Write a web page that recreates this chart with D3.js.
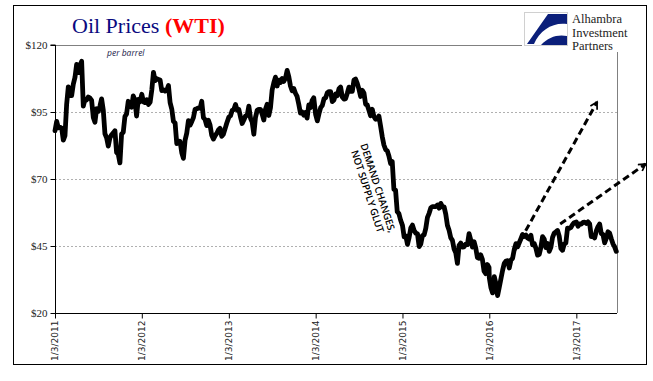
<!DOCTYPE html>
<html>
<head>
<meta charset="utf-8">
<script src="https://cdn.jsdelivr.net/npm/d3@7"></script>
<style>
  body { margin: 0; background: #fff; }
  svg { display: block; }
</style>
</head>
<body>
<div id="chart"></div>
<script>
// weekly WTI closes, one array per year, first value near Jan 3
const years = [2011, 2012, 2013, 2014, 2015, 2016, 2017];
const wti2011 = [88.0, 91.5, 89.1, 89.3, 89.0, 84.5, 86.2, 97.9, 104.4, 101.2, 101.1, 105.4, 107.9, 112.8, 109.7, 112.3, 113.9,
  97.2, 99.7, 99.5, 100.6, 100.2, 99.3, 93.0, 91.2, 96.2, 95.2, 97.2, 99.9, 95.7, 86.9, 85.4, 82.3, 85.4, 86.5, 87.2, 88.0,
  79.9, 79.2, 76.0, 86.8, 87.4, 93.3, 94.3, 99.0, 97.4, 96.8, 101.0, 99.4, 93.5, 99.7, 98.8];
const wti2012 = [101.6, 98.7, 98.5, 99.6, 97.8, 98.7, 103.2, 109.8, 106.7, 107.4, 107.1, 106.9, 103.0, 103.3, 102.8, 103.1,
  104.9, 98.5, 96.1, 91.5, 90.9, 83.2, 84.1, 84.0, 79.8, 77.7, 84.5, 87.1, 91.8, 90.1, 91.4, 92.9, 96.0, 96.2, 96.5, 96.4,
  99.0, 92.9, 92.2, 89.9, 91.9, 90.1, 86.3, 84.9, 86.1, 87.0, 88.3, 88.9, 85.9, 86.7, 88.7, 90.8];
const wti2013 = [93.1, 93.6, 95.6, 95.9, 97.8, 95.7, 95.9, 93.1, 90.7, 92.0, 93.5, 93.7, 97.2, 92.7, 91.3, 86.7, 93.0,
  95.6, 96.0, 96.0, 94.2, 92.0, 96.0, 97.9, 93.7, 96.6, 103.2, 105.9, 108.0, 104.7, 106.9, 106.0, 107.5, 106.4, 107.6,
  110.5, 108.2, 104.7, 102.9, 103.8, 102.0, 100.8, 97.9, 94.6, 95.0, 93.8, 94.8, 92.7, 97.6, 96.6, 99.3, 100.3];
const wti2014 = [94.0, 91.7, 94.4, 96.6, 97.5, 99.9, 100.3, 102.2, 102.6, 102.6, 98.9, 99.5, 101.7, 101.1, 103.7, 104.3,
  100.6, 99.8, 100.0, 102.0, 104.3, 102.7, 102.7, 106.9, 107.3, 105.7, 103.5, 100.8, 103.1, 102.1, 97.9, 97.6, 95.6, 93.6,
  96.0, 93.3, 92.3, 92.4, 93.5, 89.7, 85.8, 82.7, 81.0, 80.5, 78.6, 75.8, 76.5, 66.1, 65.8, 57.8, 57.1, 54.7];
const wti2015 = [52.7, 48.4, 48.7, 45.6, 48.2, 51.7, 52.8, 50.8, 49.8, 49.6, 44.8, 45.7, 48.9, 49.1, 51.6, 55.7, 57.2,
  59.2, 59.7, 59.7, 59.7, 60.3, 59.1, 60.9, 59.6, 59.6, 56.9, 52.7, 50.9, 48.1, 47.1, 43.9, 42.5, 38.5, 45.2, 46.1, 44.6,
  44.7, 45.7, 45.5, 49.6, 47.3, 44.6, 46.6, 44.3, 40.7, 40.4, 41.7, 40.0, 35.6, 34.7, 38.1, 37.0];
const wti2016 = [33.2, 29.4, 27.5, 33.6, 30.9, 26.5, 29.6, 32.8, 35.9, 38.5, 39.4, 39.5, 36.8, 39.7, 40.4, 43.7, 45.9,
  44.7, 46.2, 47.7, 49.3, 48.6, 49.1, 48.0, 47.6, 49.0, 45.4, 45.9, 44.2, 41.6, 41.8, 44.5, 48.5, 47.6, 44.4, 45.9, 43.0,
  44.5, 48.2, 49.8, 50.3, 50.8, 48.7, 44.1, 43.4, 45.7, 46.1, 51.7, 51.5, 51.9, 53.0, 53.7];
const wti2017 = [54.0, 52.4, 53.2, 53.2, 53.8, 53.9, 53.4, 54.0, 53.3, 48.5, 48.8, 48.0, 50.6, 52.2, 53.2, 49.6, 49.3,
  46.2, 47.8, 50.3, 49.8, 47.7, 45.8, 44.7, 43.0];
const weekly = [wti2011, wti2012, wti2013, wti2014, wti2015, wti2016, wti2017];

const yTicks = [20, 45, 70, 95, 120];
const gridValues = [45, 70, 95];
const xTickDates = ["2011-01-03", "2012-01-03", "2013-01-03", "2014-01-03", "2015-01-03", "2016-01-03", "2017-01-03"];
const xDomain = ["2011-01-03", "2017-06-23"];
const noteLines = ["DEMAND CHANGES,", "NOT SUPPLY GLUT"];
const notePos = ["2014-09-16", 66.5];
const arrows = [
  { from: ["2016-04-20", 43.5], to: ["2017-03-31", 98.7] },
  { from: ["2016-10-27", 53.2], to: ["2017-10-21", 75.6] }
];
const logoLines = ["Alhambra", "Investment", "Partners"];

const parse = d3.timeParse("%Y-%m-%d");
const data = [];
years.forEach((yr, k) => {
  weekly[k].forEach((v, i) => {
    data.push({ date: d3.timeDay.offset(new Date(yr, 0, 3), i * 7), value: v });
  });
});

const width = 653, height = 381;
const margin = { left: 55, right: 36, top: 45, bottom: 68 };

const svg = d3.select("#chart").append("svg")
  .attr("width", width)
  .attr("height", height);

// outer frame
svg.append("rect")
  .attr("x", 13.5).attr("y", 5.5)
  .attr("width", 633).attr("height", 359)
  .attr("fill", "none").attr("stroke", "#000").attr("stroke-width", 1);

const x = d3.scaleTime()
  .domain(xDomain.map(parse))
  .range([margin.left, width - margin.right]);

const y = d3.scaleLinear()
  .domain([20, 120])
  .range([height - margin.bottom, margin.top]);

// gridlines
svg.append("g").selectAll("line")
  .data(gridValues)
  .enter().append("line")
  .attr("x1", margin.left).attr("x2", width - margin.right)
  .attr("y1", d => Math.round(y(d)) + 0.5).attr("y2", d => Math.round(y(d)) + 0.5)
  .attr("stroke", "#b0b0b0")
  .attr("stroke-dasharray", "2,2");

// top and right plot border
svg.append("path")
  .attr("d", `M${margin.left},${Math.round(y(120)) + 0.5}H${Math.round(width - margin.right) + 0.5}V${y(20)}`)
  .attr("fill", "none")
  .attr("stroke", "#808080");

// price line
const line = d3.line()
  .x(d => x(d.date))
  .y(d => y(d.value));

svg.append("path")
  .datum(data)
  .attr("d", line)
  .attr("fill", "none")
  .attr("stroke", "#000")
  .attr("stroke-width", 4.8)
  .attr("stroke-linejoin", "round")
  .attr("stroke-linecap", "round");

// axes
const yAxis = d3.axisLeft(y)
  .tickValues(yTicks)
  .tickSize(5)
  .tickPadding(3)
  .tickFormat(d => "$" + d);

const gy = svg.append("g")
  .attr("transform", `translate(${margin.left + 0.5},0)`)
  .call(yAxis);
gy.select(".domain").attr("stroke", "#000").attr("d", `M-5,${y(120)}H0V${y(20)}`);
gy.selectAll("text")
  .style("font-family", "'Liberation Serif', 'Times New Roman', serif")
  .style("font-size", "11px")
  .attr("fill", "#222");

const xAxis = d3.axisBottom(x)
  .tickValues(xTickDates.map(parse))
  .tickSize(5)
  .tickFormat(d3.timeFormat("%-m/%-d/%Y"));

const gx = svg.append("g")
  .attr("transform", `translate(0,${Math.round(y(20)) + 0.5})`)
  .call(xAxis);
gx.select(".domain").attr("d", `M${margin.left},0H${width - margin.right}`);
gx.selectAll("text")
  .attr("transform", "rotate(-90)")
  .attr("x", -7)
  .attr("y", 0)
  .attr("dy", "0.32em")
  .attr("text-anchor", "end")
  .style("font-family", "'DejaVu Sans', Verdana, sans-serif")
  .style("font-size", "9px")
  .attr("fill", "#222");

// dashed arrows
svg.append("defs").append("marker")
  .attr("id", "arrowhead")
  .attr("viewBox", "0 0 10 10")
  .attr("refX", 8).attr("refY", 5)
  .attr("markerWidth", 3.2).attr("markerHeight", 3.2)
  .attr("orient", "auto")
  .append("path")
  .attr("d", "M1,1L8,5L1,9")
  .attr("fill", "none")
  .attr("stroke", "#000")
  .attr("stroke-width", 1.8);

svg.append("g").selectAll("line")
  .data(arrows)
  .enter().append("line")
  .attr("x1", d => x(parse(d.from[0])))
  .attr("y1", d => y(d.from[1]))
  .attr("x2", d => x(parse(d.to[0])))
  .attr("y2", d => y(d.to[1]))
  .attr("stroke", "#000")
  .attr("stroke-width", 3)
  .attr("stroke-dasharray", "7,4")
  .attr("marker-end", "url(#arrowhead)");

// annotation
const note = svg.append("text")
  .attr("transform", `translate(${x(parse(notePos[0]))},${y(notePos[1])}) rotate(72)`)
  .attr("text-anchor", "middle")
  .style("font-family", "'Open Sans', sans-serif")
  .style("font-weight", 600)
  .style("font-size", "10px")
  .style("letter-spacing", "-0.2px")
  .attr("fill", "#000");
note.selectAll("tspan")
  .data(noteLines)
  .enter().append("tspan")
  .attr("x", 0)
  .attr("dy", (d, i) => i === 0 ? "0.2em" : "1.1em")
  .text(d => d);

// title
const title = svg.append("text")
  .attr("x", 72).attr("y", 33)
  .style("font-family", "'Liberation Serif', 'Times New Roman', serif")
  .style("font-size", "22px");
title.append("tspan").attr("fill", "#0a0a80").text("Oil Prices ");
title.append("tspan").attr("fill", "#ff0000").style("font-weight", "bold").text("(WTI)");

svg.append("text")
  .attr("x", 107).attr("y", 56)
  .style("font-family", "'Open Sans', sans-serif")
  .style("font-style", "italic")
  .style("font-size", "8.5px")
  .attr("fill", "#1a1a4a")
  .text("per barrel");

// logo
const logo = svg.append("g");
logo.append("rect")
  .attr("x", 522).attr("y", 8).attr("width", 122).attr("height", 44)
  .attr("fill", "#fff");
logo.append("rect")
  .attr("x", 524.5).attr("y", 12.5).attr("width", 43).attr("height", 33)
  .attr("fill", "#fff").attr("stroke", "#d0d0d0");
logo.append("path")
  .attr("d", "M527,44L548,14H567V24C553,22 540,30 534,44Z")
  .attr("fill", "#0b1f7a");
logo.append("path")
  .attr("d", "M541,45C548,37 558,34 567,36V45Z")
  .attr("fill", "#0b1f7a");
logo.selectAll("text.logo")
  .data(logoLines)
  .enter().append("text")
  .attr("class", "logo")
  .attr("x", 572)
  .attr("y", (d, i) => 23 + i * 13.5)
  .style("font-family", "'Liberation Serif', 'Times New Roman', serif")
  .style("font-size", "12.5px")
  .attr("fill", "#222")
  .text(d => d);
</script>
</body>
</html>
